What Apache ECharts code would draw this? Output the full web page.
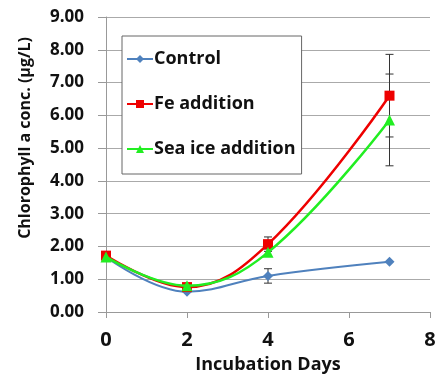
<!DOCTYPE html>
<html><head><meta charset="utf-8">
<script src="https://cdn.jsdelivr.net/npm/echarts@6/dist/echarts.min.js"></script>
<style>html,body{margin:0;padding:0;background:#fff}#c{width:435px;height:376px}</style>
</head><body><div id="c"></div>
<script>
const days = [0, 2, 4, 7];
const control = [1.68, 0.62, 1.10, 1.53];
const fe = [1.72, 0.76, 2.07, 6.60];
const seaIce = [1.68, 0.80, 1.82, 5.86];
const errControl = [0, 0, 0.22, 0];
const errFe = [0, 0, 0.22, 1.26];
const errSeaIce = [0, 0, 0.1, 1.40];
const yTicks = [0, 1, 2, 3, 4, 5, 6, 7, 8, 9];
const xTicks = [0, 2, 4, 6, 8];

const FONT = '"Open Sans", "Liberation Sans", sans-serif';
function pairs(vals){ return days.map((d,i)=>[d, vals[i]]); }
function errData(vals, errs){ return days.map((d,i)=>[d, vals[i]-errs[i], vals[i]+errs[i]]).filter((r,i)=>errs[i]>0); }
function errSeries(vals, errs){
  return {
    type:'custom', silent:true, z:1,
    data: errData(vals, errs),
    renderItem: function(params, api){
      const lo = api.coord([api.value(0), api.value(1)]);
      const hi = api.coord([api.value(0), api.value(2)]);
      const w = 4;
      const st = {stroke:'#333', lineWidth:1};
      return {type:'group', children:[
        {type:'line', shape:{x1:lo[0],y1:lo[1],x2:hi[0],y2:hi[1]}, style:st},
        {type:'line', shape:{x1:lo[0]-w,y1:lo[1],x2:lo[0]+w,y2:lo[1]}, style:st},
        {type:'line', shape:{x1:hi[0]-w,y1:hi[1],x2:hi[0]+w,y2:hi[1]}, style:st}
      ]};
    }
  };
}
const chart = echarts.init(document.getElementById('c'));
chart.setOption({
  animation:false,
  backgroundColor:'#fff',
  grid:{left:106, right:5, top:17, bottom:64, containLabel:false, outerBoundsMode:'none'},
  xAxis:{type:'value', min:0, max:8, interval:2,
    axisLine:{show:true, lineStyle:{color:'#999'}},
    axisTick:{show:true, length:6, lineStyle:{color:'#999'}},
    splitLine:{show:false},
    axisLabel:{fontFamily:FONT, fontWeight:'bold', fontSize:20, color:'#111', margin:18,
      formatter:v=>xTicks.includes(v)?String(v):''},
    name:'Incubation Days', nameLocation:'middle', nameGap:44,
    nameTextStyle:{fontFamily:FONT, fontWeight:'bold', fontSize:18, color:'#111'}
  },
  yAxis:{type:'value', min:0, max:9, interval:1,
    axisLine:{show:true, lineStyle:{color:'#999'}},
    axisTick:{show:true, length:8, lineStyle:{color:'#999'}},
    splitLine:{show:true, lineStyle:{color:'#aaa'}},
    axisLabel:{fontFamily:FONT, fontWeight:'bold', fontSize:17, color:'#111', margin:22,
      formatter:v=>yTicks.includes(v)?v.toFixed(2):''}
  },
  graphic:[{type:'text', left:17, top:37, rotation:Math.PI/2,
    style:{text:'Chlorophyll a conc. (µg/L)', font:'bold 16px '+FONT, fill:'#111'}}],
  legend:{orient:'vertical', left:122, top:36, padding:[14,6,16,4], itemGap:27,
    backgroundColor:'#fff', borderColor:'#666', borderWidth:1, itemWidth:26, itemHeight:10,
    textStyle:{fontFamily:FONT, fontWeight:'bold', fontSize:18, color:'#111', padding:[0,0,0,-4]},
    data:['Control','Fe addition','Sea ice addition']},
  series:[
    errSeries(control, errControl),
    errSeries(fe, errFe),
    errSeries(seaIce, errSeaIce),
    {name:'Control', type:'line', smooth:0.4, data:pairs(control), symbol:'diamond', symbolSize:10,
      itemStyle:{color:'#4F81BD'}, lineStyle:{color:'#4F81BD', width:2}, z:3},
    {name:'Sea ice addition', type:'line', smooth:0.4, data:pairs(seaIce), symbol:'triangle', symbolSize:11,
      itemStyle:{color:'#22EE22'}, lineStyle:{color:'#22EE22', width:2.5}, z:5},
    {name:'Fe addition', type:'line', smooth:0.4, data:pairs(fe), symbol:'rect', symbolSize:10,
      itemStyle:{color:'#EE0000'}, lineStyle:{color:'#EE0000', width:2.5}, z:4}
  ]
});
</script></body></html>
